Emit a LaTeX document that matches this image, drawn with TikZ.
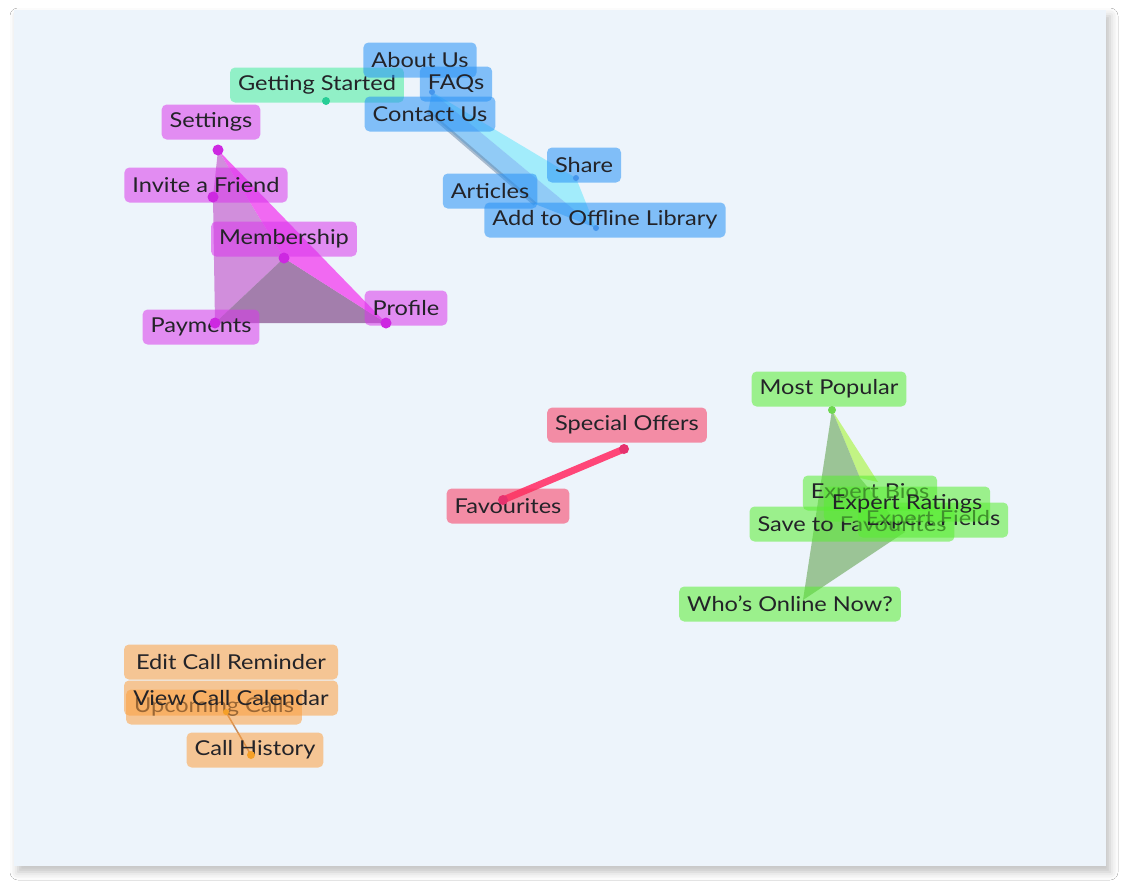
\documentclass[tikz,border=0pt]{standalone}
\usepackage{fontspec}
\setmainfont{Lato}[FakeStretch=1.15]
\usetikzlibrary{shadows.blur}
\definecolor{panel}{RGB}{237,244,251}
\definecolor{tealbox}{RGB}{70,237,158}
\definecolor{tealdot}{RGB}{40,205,150}
\definecolor{bluebox}{RGB}{39,146,246}
\definecolor{bluedot}{RGB}{70,150,235}
\definecolor{purplebox}{RGB}{217,55,235}
\definecolor{purpledot}{RGB}{205,40,225}
\definecolor{redbox}{RGB}{248,55,95}
\definecolor{reddot}{RGB}{230,50,110}
\definecolor{redline}{RGB}{255,70,120}
\definecolor{greenbox}{RGB}{88,237,49}
\definecolor{greendot}{RGB}{110,215,80}
\definecolor{orangebox}{RGB}{252,160,64}
\definecolor{orangedot}{RGB}{245,160,40}
\definecolor{txt}{RGB}{35,35,40}
\tikzset{
  lbl/.style={rounded corners=5pt, fill opacity=0.55, text opacity=1, text=txt,
    minimum height=35pt, inner xsep=8pt, inner ysep=0pt, font=\fontsize{20.5}{22}\selectfont, anchor=center},
  tealn/.style={lbl, fill=tealbox},
  bluen/.style={lbl, fill=bluebox},
  purplen/.style={lbl, fill=purplebox},
  redn/.style={lbl, fill=redbox},
  greenn/.style={lbl, fill=greenbox},
  orangen/.style={lbl, fill=orangebox},
  dotc/.style={circle, inner sep=0pt},
}
\begin{document}
\begin{tikzpicture}[x=1pt,y=-1pt]
\useasboundingbox (0,0) rectangle (1128,892);
\fill[white] (0,0) rectangle (1128,892);
\fill[panel, blur shadow={shadow xshift=4pt, shadow yshift=-6pt, shadow blur radius=8pt, shadow opacity=25}] (14,10) rectangle (1106,866);

% polygon coordinates
\coordinate (pS) at (218,150);
\coordinate (pI) at (213,197);
\coordinate (pM) at (284,258);
\coordinate (pP) at (386,323);
\coordinate (pY) at (215,323);
\coordinate (bF) at (432,92);
\coordinate (bC) at (428,112);
\coordinate (bSh) at (576,178);
\coordinate (bA) at (596,228);
\coordinate (bAr) at (535,204);
\coordinate (gMP) at (832,410);
\coordinate (gWO) at (803,600);
\coordinate (gE) at (905,532);
\coordinate (gB) at (878,482);
\coordinate (gB2) at (860,478);
\coordinate (rSO) at (624,449);
\coordinate (rF) at (503,500);
\coordinate (oU) at (226,712);
\coordinate (oH) at (251,755);

% purple solid
\fill[fill={rgb,255:red,205;green,125;blue,215}, fill opacity=0.85] (pS) -- (pI) -- (pY) -- (pM) -- cycle;
\fill[fill={rgb,255:red,160;green,120;blue,168}, fill opacity=0.95] (pM) -- (pY) -- (pP) -- cycle;
\fill[fill={rgb,255:red,242;green,90;blue,242}, fill opacity=0.9] (pS) -- (pM) -- (pP) -- cycle;

% blue solid
\fill[fill={rgb,255:red,150;green,235;blue,252}, fill opacity=0.85] (bF) -- (bSh) -- (bA) -- cycle;
\fill[fill={rgb,255:red,115;green,190;blue,245}, fill opacity=0.75] (bF) -- (bA) -- (bAr) -- (bC) -- cycle;
\draw[draw={rgb,255:red,110;green,140;blue,170}, line width=4pt, opacity=0.55] (bC) -- (bAr);

% green solid
\fill[fill={rgb,255:red,190;green,245;blue,120}, fill opacity=0.9] (gMP) -- (gB) -- (gB2) -- cycle;
\fill[fill={rgb,255:red,135;green,185;blue,125}, fill opacity=0.8] (gMP) -- (gB2) -- (gE) -- (gWO) -- cycle;

% red and orange links
\draw[redline, line width=7pt, line cap=round] (rSO) -- (rF);
\draw[draw={rgb,255:red,200;green,140;blue,90}, line width=1.5pt] (oU) -- (oH);

% labels
\node[tealn] (gs) at (317,85) {Getting Started};
\node[bluen] (about) at (420,60) {About Us};
\node[bluen] (faq) at (456,84) {FAQs};
\node[bluen] (contact) at (430,114) {Contact Us};
\node[bluen] (share) at (584,165) {Share};
\node[bluen] (articles) at (490,191) {Articles};
\node[bluen] (offline) at (605,220) {Add to Offline Library};

\node[purplen] (settings) at (211,122) {Settings};
\node[purplen] (invite) at (206,185) {Invite a Friend};
\node[purplen] (member) at (284,239) {Membership};
\node[purplen] (profile) at (406,308) {Profile};
\node[purplen] (payments) at (201,327) {Payments};

\node[redn] (offers) at (627,425) {Special Offers};
\node[redn] (fav) at (508,506) {Favourites};

\node[greenn] (popular) at (829,389) {Most Popular};
\node[greenn] (bios) at (870,493) {Expert Bios};
\node[greenn] (save) at (852,524) {Save to Favourites};
\node[greenn] (fields) at (933,520) {Expert Fields};
\node[greenn] (ratings) at (907,504) {Expert Ratings};
\node[greenn] (online) at (790,604) {Who's Online Now?};

\node[orangen, minimum width=214pt] (edit) at (231,662) {Edit Call Reminder};
\node[orangen] (upcoming) at (214,707) {Upcoming Calls};
\node[orangen, minimum width=214pt] (view) at (231,698) {View Call Calendar};
\node[orangen] (history) at (255,750) {Call History};

% dots
\node[dotc, fill=tealdot, minimum size=8pt] (dgs) at (326,101) {};
\node[dotc, fill=bluedot, minimum size=6pt] (dfaq) at (bF) {};
\node[dotc, fill=bluedot, minimum size=6pt] (dshare) at (bSh) {};
\node[dotc, fill=bluedot, minimum size=6pt] (doff) at (bA) {};
\node[dotc, fill=purpledot, minimum size=11pt] (dS) at (pS) {};
\node[dotc, fill=purpledot, minimum size=11pt] (dI) at (pI) {};
\node[dotc, fill=purpledot, minimum size=11pt] (dM) at (pM) {};
\node[dotc, fill=purpledot, minimum size=11pt] (dP) at (pP) {};
\node[dotc, fill=purpledot, minimum size=11pt] (dY) at (pY) {};
\node[dotc, fill=greendot, minimum size=8pt] (dMP) at (gMP) {};
\node[dotc, fill=reddot, minimum size=10pt] (dSO) at (rSO) {};
\node[dotc, fill=reddot, minimum size=10pt] (dF) at (rF) {};
\node[dotc, fill=orangedot, minimum size=6pt] (dU) at (oU) {};
\node[dotc, fill=orangedot, minimum size=8pt] (dH) at (oH) {};
\end{tikzpicture}
\end{document}
